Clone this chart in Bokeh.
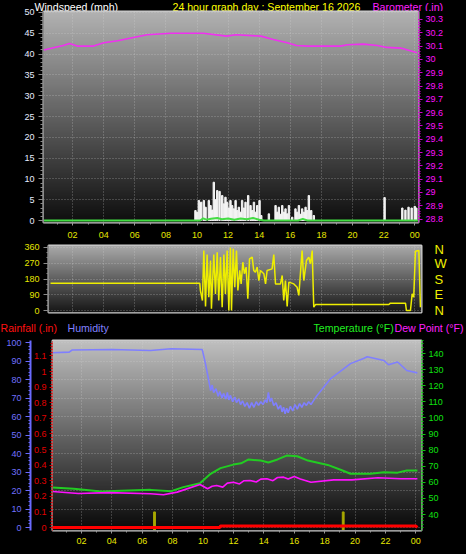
import numpy as np
from bokeh.plotting import figure
from bokeh.models import Range1d, LinearAxis, FixedTicker, NumeralTickFormatter, ColumnDataSource
from bokeh.core.properties import value
from bokeh.layouts import column
from bokeh.embed import file_html
from bokeh.resources import INLINE

# ---------------- data ----------------
time_ticks = [2, 4, 6, 8, 10, 12, 14, 16, 18, 20, 22, 24]
time_labels = ["02", "04", "06", "08", "10", "12", "14", "16", "18", "20", "22", "00"]

wind_ticks = [0, 5, 10, 15, 20, 25, 30, 35, 40, 45, 50]
baro_ticks = [28.8, 28.9, 29.0, 29.1, 29.2, 29.3, 29.4, 29.5, 29.6, 29.7, 29.8, 29.9, 30.0, 30.1, 30.2, 30.3]
dir_ticks = [0, 90, 180, 270, 360]
compass_labels = ["N", "E", "S", "W", "N"]
rain_ticks = [0, 0.1, 0.2, 0.3, 0.4, 0.5, 0.6, 0.7, 0.8, 0.9, 1.0, 1.1, 1.2]
hum_ticks = [0, 10, 20, 30, 40, 50, 60, 70, 80, 90, 100]
temp_ticks = [40, 50, 60, 70, 80, 90, 100, 110, 120, 130, 140]

top_titles = ["Windspeed (mph)", "24 hour graph day : September 16 2026", "Barometer (.in)"]
bottom_titles = ["Rainfall (.in)", "Humidity", "Temperature (°F)", "Dew Point (°F)"]

# wind gusts (mph)
wind_hours = [9.90, 10.01, 10.12, 10.27, 10.44, 10.55, 10.76, 10.87, 10.98, 11.08, 11.19, 11.30,
              11.45, 11.62, 11.73, 11.83, 11.94, 12.05, 12.15, 12.26, 12.37, 12.48, 12.58, 12.69,
              12.80, 12.90, 13.01, 13.12, 13.29, 13.44, 13.55, 13.66, 13.76, 13.87, 14.02, 14.13,
              14.62, 15.05, 15.16, 15.26, 15.37, 15.48, 15.58, 15.69, 15.80, 15.91, 16.12, 16.33,
              16.44, 16.55, 16.66, 16.76, 16.87, 16.98, 17.08, 17.19, 17.34, 17.51,
              22.06, 23.2, 23.4, 23.6, 23.8, 24.0, 24.1]
wind_gust = [2.4, 2.0, 4.8, 4.4, 4.8, 3.2, 4.8, 3.6, 2.5, 9.2, 5.0, 7.2,
             7.0, 6.0, 4.0, 5.6, 4.4, 3.0, 4.8, 3.6, 2.8, 4.8, 2.4, 3.2,
             2.0, 4.8, 3.0, 4.4, 6.0, 3.6, 2.4, 4.4, 2.0, 3.6, 4.8, 1.2,
             1.6, 3.6, 2.0, 3.2, 1.5, 3.6, 2.0, 2.8, 1.6, 3.6, 0.8, 2.8,
             2.0, 3.6, 1.5, 2.8, 2.0, 3.2, 2.4, 6.0, 2.4, 1.2,
             5.5, 3.0, 2.5, 3.2, 3.0, 3.4, 3.0]

# average wind (mph)
wind_avg_hours = [0.13, 10.2, 10.4, 10.6, 10.9, 11.3, 11.6, 12.0, 12.4, 12.8, 13.2, 13.6, 14.0, 14.3,
                  16.5, 16.8, 17.1, 24.2]
wind_avg = [0, 0, 0.5, 0.2, 0.4, 0.6, 0.3, 0.5, 0.2, 0.5, 0.3, 0.6, 0.2, 0, 0, 0.4, 0, 0]

# barometer (in)
baro_hours = [0.15, 1.4, 1.8, 2.3, 3.35, 4.0, 4.9, 6.15, 6.8, 8.3, 10.4, 11.9, 12.5, 14.1, 14.9,
              15.8, 16.4, 17.1, 19.2, 19.7, 20.7, 21.6, 22.2, 23.1, 24.15]
baro = [30.07, 30.105, 30.12, 30.10, 30.10, 30.125, 30.14, 30.17, 30.185, 30.197, 30.197, 30.175,
        30.185, 30.175, 30.15, 30.125, 30.105, 30.10, 30.10, 30.11, 30.115, 30.105, 30.09, 30.085, 30.05]

# wind direction (degrees)
dir_hours = [0.58, 10.18, 10.22, 10.35, 10.44, 10.55, 10.65, 10.76, 10.87, 10.93, 11.08, 11.19,
             11.30, 11.40, 11.51, 11.62, 11.73, 11.83, 11.94, 12.05, 12.15, 12.22, 12.33, 12.43,
             12.54, 12.63, 12.75, 12.84, 12.95, 13.05, 13.16, 13.27, 13.38, 13.55, 13.65, 13.76,
             13.87, 13.98, 14.08, 14.30, 14.41, 14.51, 14.83, 14.94, 15.05, 15.37, 15.48, 15.58,
             15.69, 15.80, 15.91, 16.23, 16.44, 16.55, 16.76, 16.87, 17.04, 17.19, 17.30, 17.41,
             17.51, 17.62, 22.34, 22.44, 23.41, 23.47, 23.73, 23.84, 23.94, 24.05, 24.27, 24.37]
dir_deg = [156, 156, 114, 57, 343, 23, 320, 76, 286, 10, 320, 95,
           333, 57, 305, 19, 320, 95, 343, 0, 360, 0, 352, 133,
           343, 114, 229, 152, 276, 210, 248, 67, 295, 305, 229, 219,
           248, 171, 229, 210, 152, 229, 238, 320, 152, 152, 200, 57,
           171, 23, 162, 152, 133, 86, 343, 171, 286, 305, 267, 343,
           19, 34, 34, 42, 42, 0, 0, 95, 76, 339, 343, 19]

# humidity (%)
hum_hours = [0.1, 1.2, 1.4, 4.0, 6.55, 7.9, 9.95, 10.16, 10.4, 10.5, 10.6, 10.7, 10.85, 11.0, 11.1,
             11.25, 11.35, 11.5, 11.6, 11.7, 11.8, 11.95, 12.1, 12.2, 12.35, 12.47, 12.6, 12.75,
             12.9, 13.05, 13.2, 13.35, 13.5, 13.65, 13.8, 13.95, 14.1, 14.2, 14.3, 14.4, 14.5,
             14.65, 14.8, 14.95, 15.1, 15.2, 15.3, 15.4, 15.5, 15.6, 15.75, 15.9, 16.05, 16.2,
             16.35, 16.5, 16.65, 16.8, 16.95, 17.1, 17.3, 17.5, 18.4, 19.7, 20.56, 20.8, 21.9,
             22.2, 22.8, 23.4, 24.1]
hum = [94.5, 94.8, 96.0, 96.2, 95.7, 96.6, 96.2, 88.6, 78.5, 74.0, 77.0, 73.0, 75.0, 71.0, 73.5,
       70.0, 72.5, 69.5, 73.0, 69.0, 71.5, 68.0, 70.5, 67.5, 69.5, 66.5, 68.5, 65.5,
       67.5, 64.5, 67.5, 65.0, 68.0, 66.0, 68.0, 66.5, 69.0, 67.5, 73.0, 68.0, 70.0,
       66.0, 67.5, 64.0, 66.0, 62.5, 65.0, 61.5, 64.5, 62.0, 65.5, 63.0, 66.5, 64.0,
       67.0, 65.0, 67.5, 66.0, 68.0, 66.5, 69.0, 71.4, 80.5, 88.6, 91.4, 92.3, 90.3,
       88.0, 89.5, 84.9, 83.6]

# temperature (F)
temp_hours = [0.1, 1.5, 3.3, 4.6, 6.55, 7.9, 8.7, 9.8, 10.5, 11.15, 12.0, 12.5, 13.0, 13.8, 14.3,
              14.9, 15.5, 16.2, 16.9, 18.2, 19.05, 19.7, 21.0, 21.9, 22.8, 23.4, 24.1]
temp = [56.8, 56.0, 54.3, 54.8, 55.3, 54.5, 57.0, 59.4, 65.3, 68.8, 71.0, 71.8, 74.2, 73.5, 72.3,
        74.2, 76.6, 76.2, 73.5, 70.8, 67.8, 65.3, 65.3, 66.3, 66.0, 67.3, 67.3]

# dew point (F)
dew_hours = [0.1, 1.8, 3.8, 6.55, 7.4, 8.3, 9.8, 10.3, 10.6, 10.9, 11.3, 11.6, 12.0, 12.4, 12.7,
             13.1, 13.5, 13.8, 14.2, 14.6, 14.9, 15.3, 15.6, 16.0, 16.4, 17.1, 18.6, 19.8, 21.5,
             23.0, 24.1]
dew = [54.3, 53.0, 53.6, 52.9, 52.3, 53.9, 58.6, 56.0, 57.5, 58.0, 57.0, 59.5, 60.0, 59.0, 61.0,
       61.1, 60.2, 62.0, 62.2, 61.0, 63.0, 63.2, 62.0, 63.6, 62.0, 60.0, 61.5, 61.5, 62.8,
       62.2, 62.2]

# rainfall (in)
rain_hours = [0.1, 11.1, 11.15, 24.0, 24.1]
rain = [0.0, 0.0, 0.01, 0.01, 0.0]
rain_rate_hours = [6.81, 19.22]
rain_rate = [0.1, 0.1]

# ---------------- style helpers ----------------
FONT = "Liberation Sans"
YELLOW = "#e6e600"
WIDTH = 466


def no_align(p):
    try:
        p.frame_align = False
    except AttributeError:
        pass


def gradient(p, xr, yr, top, bottom):
    n = 256
    t = np.linspace(0.0, 1.0, n)[:, None]
    g = (bottom + (top - bottom) * t).astype(np.uint32)
    img = ((255 << 24) | (g << 16) | (g << 8) | g).astype(np.uint32)
    r = p.image_rgba(image=[img], x=xr[0], y=yr[0], dw=xr[1] - xr[0], dh=yr[1] - yr[0])
    r.level = "image"


def base_fig(height, left, right, top, bottom, xr, yr):
    p = figure(width=WIDTH, height=height, min_border_left=left, min_border_right=right,
               min_border_top=top, min_border_bottom=bottom,
               x_range=Range1d(*xr), y_range=Range1d(*yr),
               output_backend="svg", toolbar_location=None,
               background_fill_color="black", border_fill_color="black",
               outline_line_color="#cfcfcf", outline_line_width=2)
    no_align(p)
    p.xgrid.ticker = FixedTicker(ticks=time_ticks)
    for g in (p.xgrid, p.ygrid):
        g.grid_line_color = "#d8d8d8"
        g.grid_line_alpha = 0.45
        g.grid_line_dash = "1 2"
    return p


def title_strip(height, xs, ys, texts, colors, size="10.6px"):
    s = figure(width=WIDTH, height=height, min_border=0,
               min_border_left=0, min_border_right=0, min_border_top=0, min_border_bottom=0,
               x_range=Range1d(0, WIDTH), y_range=Range1d(0, height),
               x_axis_type=None, y_axis_type=None,
               output_backend="svg", toolbar_location=None,
               background_fill_color="black", border_fill_color="black",
               outline_line_color=None)
    no_align(s)
    src = ColumnDataSource(dict(x=xs, y=ys, text=texts, color=colors))
    s.text(x="x", y="y", text="text", text_color="color", source=src,
           text_font=value(FONT), text_font_size=size, text_baseline="middle", text_align="left")
    return s


def style_axis(ax, color, tick_color, size="9px", tick_out=4, standoff=2):
    ax.major_label_text_color = color
    ax.major_label_text_font = FONT
    ax.major_label_text_font_size = size
    ax.major_tick_line_color = tick_color
    ax.minor_tick_line_color = tick_color
    ax.axis_line_color = tick_color
    ax.major_tick_in = 0
    ax.minor_tick_in = 0
    ax.major_tick_out = tick_out
    ax.minor_tick_out = 2
    ax.major_label_standoff = standoff


def time_axis(ax, standoff):
    ax.ticker = FixedTicker(ticks=time_ticks, minor_ticks=[h for h in range(1, 25)])
    ax.major_label_overrides = {t: l for t, l in zip(time_ticks, time_labels)}
    style_axis(ax, YELLOW, "#9a9a9a", tick_out=3, standoff=standoff)


# ---------------- title strip above panel 1 ----------------
S1H = 11
strip1 = title_strip(S1H, [34, 172, 372], [S1H - 5] * 3, top_titles,
                     ["#ffffff", "#ffff00", "#ff20ff"])

# ---------------- panel 1: wind speed / barometer ----------------
H1, L1, R1, T1, B1 = 235, 43, 48, 5, 19
xr1 = (0.13, 24.24)
wr = (-0.48, 50.24)
br = (28.774, 30.36)
p1 = base_fig(H1, L1, R1, T1, B1, xr1, wr)
p1.margin = (-5, 0, 0, 0)
p1.border_fill_alpha = 0
p1.extra_y_ranges = {"baro": Range1d(*br)}
gradient(p1, xr1, wr, 178, 14)
p1.ygrid.ticker = FixedTicker(ticks=wind_ticks)

p1.vbar(x=wind_hours, top=wind_gust, bottom=0, width=0.09, color="#f4f4f4")
p1.line(wind_avg_hours, wind_avg, color="#44dd44", line_width=2)
p1.line(baro_hours, baro, y_range_name="baro", color="#f030f0", line_width=1.6)

time_axis(p1.xaxis[0], standoff=6)
ya = p1.yaxis[0]
ya.ticker = FixedTicker(ticks=wind_ticks, minor_ticks=[v for v in range(0, 51)])
style_axis(ya, "#e6ecff", "#8a8a8a", tick_out=5, standoff=4)
ya.minor_tick_out = 3
bax = LinearAxis(y_range_name="baro",
                 ticker=FixedTicker(ticks=baro_ticks,
                                    minor_ticks=[round(28.8 + 0.02 * i, 2) for i in range(76)]),
                 formatter=NumeralTickFormatter(format="0.[0]"))
style_axis(bax, "#ff10ff", "#d000d0", tick_out=4, standoff=3)
bax.axis_line_dash = "1 1"
p1.add_layout(bax, "right")

# ---------------- panel 2: wind direction ----------------
H2, L2, R2, T2, B2 = 77, 48, 45, 4, 6
xr2 = (0.45, 24.44)
dr = (-11.4, 371.4)
p2 = base_fig(H2, L2, R2, T2, B2, xr2, dr)
gradient(p2, xr2, dr, 170, 22)
p2.ygrid.ticker = FixedTicker(ticks=dir_ticks)
p2.line(dir_hours, dir_deg, color="#eeee00", line_width=1.5)
p2.xaxis.visible = False
ya2 = p2.yaxis[0]
ya2.ticker = FixedTicker(ticks=dir_ticks, minor_ticks=[v for v in range(0, 361, 30)])
style_axis(ya2, YELLOW, "#8a8a8a", tick_out=5, standoff=4)
cax = LinearAxis(ticker=FixedTicker(ticks=dir_ticks),
                 major_label_overrides={t: l for t, l in zip(dir_ticks, compass_labels)})
style_axis(cax, "#f0f000", "#000000", size="13px", tick_out=0, standoff=13)
cax.axis_line_color = None
cax.major_tick_line_color = None
p2.add_layout(cax, "right")

# ---------------- title strip above panel 3 ----------------
S3H = 18
strip3 = title_strip(S3H, [0, 67, 313, 394], [S3H - 9] * 4, bottom_titles,
                     ["#ff1010", "#8080ff", "#20ee20", "#ff20ff"])

# ---------------- panel 3: rain / humidity / temperature / dew point ----------------
H3, L3, R3, T3, B3 = 218, 52, 45, 4, 24
xr3 = (0.1, 24.37)
rr = (-0.019, 1.199)
hr = (-1.6, 101.1)
tr = (30.06, 148.1)
p3 = base_fig(H3, L3, R3, T3, B3, xr3, rr)
p3.extra_y_ranges = {"hum": Range1d(*hr), "temp": Range1d(*tr)}
gradient(p3, xr3, rr, 192, 8)
p3.ygrid.ticker = FixedTicker(ticks=hum_ticks)
p3.ygrid.y_range_name = "hum"

p3.vbar(x=rain_rate_hours, top=rain_rate, bottom=rr[0], width=0.12, color="#a8a800")
p3.line(hum_hours, hum, y_range_name="hum", color="#7f7fff", line_width=1.6)
p3.line(temp_hours, temp, y_range_name="temp", color="#22cc22", line_width=2)
p3.line(dew_hours, dew, y_range_name="temp", color="#ff10ff", line_width=1.6)
p3.line(rain_hours, rain, color="#ff0000", line_width=3)

time_axis(p3.xaxis[0], standoff=4)
rax = p3.yaxis[0]
rax.ticker = FixedTicker(ticks=rain_ticks, minor_ticks=[round(0.02 * i, 2) for i in range(61)])
rax.formatter = NumeralTickFormatter(format="0.[0]")
style_axis(rax, "#e00000", "#d00000", tick_out=3, standoff=3)
rax.axis_line_dash = "1 1"
hax = LinearAxis(y_range_name="hum",
                 ticker=FixedTicker(ticks=hum_ticks, minor_ticks=[v for v in range(0, 101, 2)]))
style_axis(hax, "#7070ff", "#6a6aff", tick_out=5, standoff=4)
hax.axis_line_width = 2
p3.add_layout(hax, "left")
tax = LinearAxis(y_range_name="temp",
                 ticker=FixedTicker(ticks=temp_ticks, minor_ticks=[v for v in range(32, 149, 2)]))
style_axis(tax, "#10e010", "#10c010", tick_out=4, standoff=3)
tax.axis_line_dash = "1 1"
p3.add_layout(tax, "right")

layout = column(strip1, p1, p2, strip3, p3, spacing=0, styles={"background-color": "black"})
open("out.html", "w").write(file_html(layout, INLINE))
